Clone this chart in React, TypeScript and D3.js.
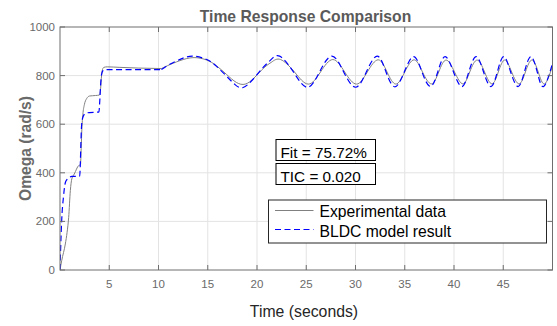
import React from 'react';
import * as d3 from 'd3';

const W = 557;
const H = 326;

const xTicks = [5, 10, 15, 20, 25, 30, 35, 40, 45];
const yTicks = [0, 200, 400, 600, 800, 1000];

const titleText = 'Time Response Comparison';
const xLabel = 'Time (seconds)';
const yLabel = 'Omega (rad/s)';
const seriesNames = ['Experimental data', 'BLDC model result'];
const fitText = 'Fit = 75.72%';
const ticText = 'TIC = 0.020';

// Experimental data (gray solid)
const expTime = [
  0, 0.17, 0.54, 0.72, 0.88, 1.05, 1.2, 1.45, 1.9, 2.08, 2.15, 2.22, 2.32, 2.47, 2.7, 3.0, 3.6, 4.0,
  4.12, 4.22, 4.32, 4.45, 4.8, 6, 8, 10.3,
  11.2, 12.5, 13.7, 14.9, 15.9, 16.9, 17.9, 18.8, 19.7, 20.7, 21.5, 22.4,
  23.8, 25.2, 26.45, 27.7, 28.9, 30.1, 31.2, 32.3, 33.2, 34.1, 35.0, 35.95, 36.8, 37.7, 38.45, 39.2,
  40.05, 40.9, 41.6, 42.35, 43.1, 43.85, 44.5, 45.15, 45.85, 46.6, 47.25, 47.9, 48.55, 49.2, 50,
];
const expOmega = [
  0, 38, 107, 155, 216, 327, 375, 395, 430, 433, 500, 580, 640, 680, 705, 716, 718, 720,
  745, 800, 826, 834, 836, 834, 831, 829,
  846, 866, 874, 864, 840, 805, 772, 765, 790, 832, 856, 866,
  815, 765, 815, 866, 815, 765, 815, 865, 815, 765, 815, 865, 815, 766, 815, 864,
  815, 766, 815, 864, 815, 766, 815, 864, 815, 766, 815, 864, 815, 766, 840,
];

// BLDC model result (blue dashed)
const modelTime = [
  0, 0.07, 0.17, 0.35, 0.54, 0.7, 0.9, 1.2, 2.0, 2.05, 2.12, 2.2, 2.35, 2.6, 3.0, 3.95, 4.03, 4.12,
  4.22, 4.35, 4.6, 6, 8, 10.3,
  11.2, 12.5, 13.6, 14.9, 15.9, 16.9, 17.8, 18.6, 19.6, 20.65, 21.4, 22.3,
  23.7, 25.1, 26.35, 27.6, 28.8, 30.0, 31.1, 32.2, 33.1, 34.0, 34.95, 35.9, 36.75, 37.6, 38.35, 39.1,
  39.95, 40.8, 41.5, 42.25, 43.0, 43.75, 44.4, 45.05, 45.75, 46.5, 47.15, 47.8, 48.45, 49.1, 50,
];
const modelOmega = [
  0, 93, 203, 300, 359, 372, 380, 385, 386, 420, 520, 600, 632, 645, 648, 650, 690, 760,
  805, 820, 825, 825, 825, 825,
  848, 872, 880, 866, 838, 798, 762, 751, 785, 835, 865, 880,
  815, 752, 815, 880, 815, 752, 815, 880, 815, 754, 815, 878, 815, 755, 815, 878,
  815, 755, 815, 878, 815, 755, 815, 878, 815, 755, 815, 878, 815, 755, 850,
];

// time at which the start-up steps end and the oscillating part begins
const transientEnd = 10.3;

const PL = 60;
const PR = 552.5;
const PT = 27;
const PB = 270;

type Pt = [number, number];

export default function App() {
  const x = d3.scaleLinear().domain([0, 50]).range([PL, PR]);
  const y = d3.scaleLinear().domain([0, 1000]).range([PB, PT]);

  const stepLine = d3
    .line<Pt>()
    .x((d) => x(d[0]))
    .y((d) => y(d[1]))
    .curve(d3.curveMonotoneX);
  const waveLine = d3
    .line<Pt>()
    .x((d) => x(d[0]))
    .y((d) => y(d[1]))
    .curve(d3.curveNatural);

  const build = (ts: number[], vs: number[]) => {
    const pts: Pt[] = ts.map((t, i) => [t, vs[i]] as Pt);
    const a = pts.filter((p) => p[0] <= transientEnd);
    const b = pts.filter((p) => p[0] >= transientEnd);
    return (stepLine(a) || '') + ' ' + (waveLine(b) || '');
  };

  const expPath = build(expTime, expOmega);
  const modelPath = build(modelTime, modelOmega);

  const axisColor = '#6e6e6e';
  const gridColor = '#e3e3e3';
  const labelColor = '#6a6a6a';
  const font = 'Liberation Sans, Arial, Helvetica, sans-serif';
  const tickLen = 5;

  return (
    <svg
      width={W}
      height={H}
      style={{ position: 'absolute', left: 0, top: 0, background: '#fff' }}
      fontFamily={font}
    >
      <rect x={0} y={0} width={W} height={H} fill="#fff" />
      <defs>
        <clipPath id="plotclip">
          <rect x={PL} y={PT} width={PR - PL} height={PB - PT} />
        </clipPath>
      </defs>
      {/* grid */}
      {xTicks.map((t) => (
        <line key={'gx' + t} x1={x(t)} x2={x(t)} y1={PT} y2={PB} stroke={gridColor} strokeWidth={1} />
      ))}
      {yTicks.slice(1, -1).map((t) => (
        <line key={'gy' + t} x1={PL} x2={PR} y1={y(t)} y2={y(t)} stroke={gridColor} strokeWidth={1} />
      ))}

      {/* series */}
      <g clipPath="url(#plotclip)">
        <path d={expPath} fill="none" stroke="#808080" strokeWidth={1} />
        <path d={modelPath} fill="none" stroke="#0000ff" strokeWidth={1.2} strokeDasharray="6,3.5" />
      </g>

      {/* axes box */}
      <rect x={PL} y={PT} width={PR - PL} height={PB - PT} fill="none" stroke={axisColor} strokeWidth={1} />
      {xTicks.map((t) => (
        <g key={'tx' + t}>
          <line x1={x(t)} x2={x(t)} y1={PB} y2={PB - tickLen} stroke={axisColor} />
          <line x1={x(t)} x2={x(t)} y1={PT} y2={PT + tickLen} stroke={axisColor} />
          <text x={x(t)} y={288} textAnchor="middle" fontSize={11.5} fill={labelColor}>
            {t}
          </text>
        </g>
      ))}
      {yTicks.map((t) => (
        <g key={'ty' + t}>
          <line x1={PL} x2={PL + tickLen} y1={y(t)} y2={y(t)} stroke={axisColor} />
          <line x1={PR} x2={PR - tickLen} y1={y(t)} y2={y(t)} stroke={axisColor} />
          <text x={55} y={y(t) + 4} textAnchor="end" fontSize={11.5} fill={labelColor}>
            {t}
          </text>
        </g>
      ))}

      {/* text boxes */}
      <rect x={276} y={139.5} width={99.5} height={21} fill="#fff" stroke="#000" strokeWidth={1} />
      <text x={280.5} y={157.5} fontSize={15.3} fill="#000">
        {fitText}
      </text>
      <rect x={276} y={163.5} width={99.5} height={21} fill="#fff" stroke="#000" strokeWidth={1} />
      <text x={280.5} y={181.5} fontSize={15.3} fill="#000">
        {ticText}
      </text>

      {/* legend */}
      <rect x={268.5} y={200} width={278} height={43} fill="#fff" stroke="#262626" strokeWidth={1} />
      <line x1={275} x2={313.5} y1={210.5} y2={210.5} stroke="#808080" strokeWidth={1} />
      <line x1={275} x2={313.5} y1={229.5} y2={229.5} stroke="#0000ff" strokeWidth={1.2} strokeDasharray="6,3.5" />
      <text x={319.5} y={217.3} fontSize={15.7} fill="#000">
        {seriesNames[0]}
      </text>
      <text x={319.5} y={237.3} fontSize={15.7} fill="#000">
        {seriesNames[1]}
      </text>

      {/* titles */}
      <text x={305.5} y={21.5} textAnchor="middle" fontSize={15.7} fontWeight="bold" fill="#5a5a5a">
        {titleText}
      </text>
      <text x={304} y={317} textAnchor="middle" fontSize={15.8} fill="#262626">
        {xLabel}
      </text>
      <text
        transform={`translate(30.5,${(PT + PB) / 2}) rotate(-90)`}
        textAnchor="middle"
        fontSize={15.6}
        fontWeight="bold"
        fill="#6a6a6a"
      >
        {yLabel}
      </text>
    </svg>
  );
}
